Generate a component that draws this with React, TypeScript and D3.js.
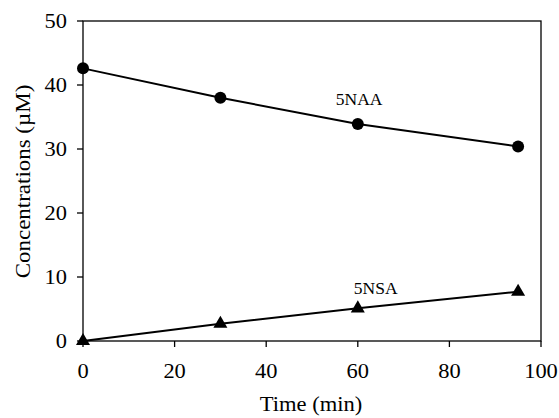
import React from "react";
import * as d3 from "d3";

const W = 559;
const H = 418;
const MARGIN = { top: 21, right: 18, bottom: 77, left: 83 };

const times = [0, 30, 60, 95];
const naa = [42.6, 38.0, 33.9, 30.4];
const nsa = [0, 2.7, 5.1, 7.7];
const xTicks = [0, 20, 40, 60, 80, 100];
const yTicks = [0, 10, 20, 30, 40, 50];

const FONT = "'Liberation Serif', 'Times New Roman', serif";
const SX = 1.07; // reference glyphs are slightly wider than Liberation Serif

const App = () => {
  const boundsWidth = W - MARGIN.left - MARGIN.right;
  const boundsHeight = H - MARGIN.top - MARGIN.bottom;

  const xScale = d3.scaleLinear().domain([0, 100]).range([0, boundsWidth]);
  const yScale = d3.scaleLinear().domain([0, 50]).range([boundsHeight, 0]);

  const line = d3
    .line<number>()
    .x((_, i) => xScale(times[i]))
    .y((d) => yScale(d));

  const tri = d3.symbol().type(d3.symbolTriangle).size(85)() || "";

  return (
    <svg width={W} height={H} style={{ position: "absolute", left: 0, top: 0 }}>
      <rect width={W} height={H} fill="#fff" />
      <g transform={`translate(${MARGIN.left},${MARGIN.top})`}>
        <rect
          x={0}
          y={0}
          width={boundsWidth}
          height={boundsHeight}
          fill="none"
          stroke="#000"
          strokeWidth={1.3}
        />
        {xTicks.map((t) => (
          <g key={"x" + t} transform={`translate(${xScale(t)},${boundsHeight})`}>
            <line y1={0} y2={6} stroke="#000" strokeWidth={1.3} />
            <text
              transform={`translate(0,37) scale(${SX},1)`}
              textAnchor="middle"
              fontFamily={FONT}
              fontSize={21}
            >
              {t}
            </text>
          </g>
        ))}
        {yTicks.map((t) => (
          <g key={"y" + t} transform={`translate(0,${yScale(t)})`}>
            <line x1={-6} x2={0} stroke="#000" strokeWidth={1.3} />
            <text
              transform={`translate(-16,0) scale(${SX},1)`}
              dy="0.35em"
              textAnchor="end"
              fontFamily={FONT}
              fontSize={21}
            >
              {t}
            </text>
          </g>
        ))}

        <path d={line(naa) || ""} fill="none" stroke="#000" strokeWidth={2} />
        <path d={line(nsa) || ""} fill="none" stroke="#000" strokeWidth={2} />

        {naa.map((v, i) => (
          <circle key={"c" + i} cx={xScale(times[i])} cy={yScale(v)} r={6} fill="#000" />
        ))}
        {nsa.map((v, i) => (
          <path
            key={"t" + i}
            d={tri}
            transform={`translate(${xScale(times[i])},${yScale(v)})`}
            fill="#000"
          />
        ))}

        <text x={xScale(60.3)} y={yScale(36.9)} textAnchor="middle" fontFamily={FONT} fontSize={17.5}>
          5NAA
        </text>
        <text x={xScale(63.9)} y={yScale(7.34)} textAnchor="middle" fontFamily={FONT} fontSize={17.5}>
          5NSA
        </text>
      </g>
      <text
        transform={`translate(311,411) scale(1.1,1)`}
        textAnchor="middle"
        fontFamily={FONT}
        fontSize={20.5}
      >
        Time (min)
      </text>
      <text
        transform={`translate(30,181.5) rotate(-90) scale(1.12,1)`}
        textAnchor="middle"
        fontFamily={FONT}
        fontSize={20.5}
      >
        Concentrations (µM)
      </text>
    </svg>
  );
};

export default App;
